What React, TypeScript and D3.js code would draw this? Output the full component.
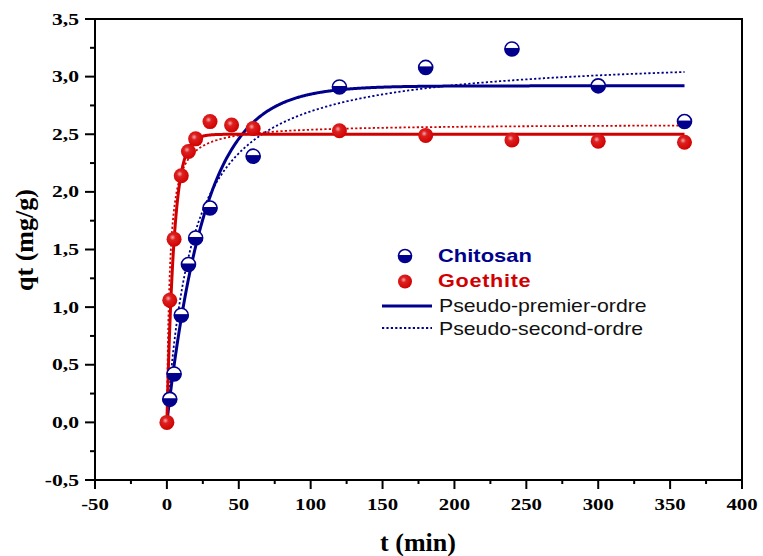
import React from "react";
import * as d3 from "d3";

// ---- Data ----
const chitosanT = [2, 5, 10, 15, 20, 30, 60, 120, 180, 240, 300, 360];
const chitosanQ = [0.2, 0.42, 0.93, 1.37, 1.6, 1.86, 2.31, 2.91, 3.08, 3.24, 2.92, 2.61];
const goethiteT = [0, 2, 5, 10, 15, 20, 30, 45, 60, 120, 180, 240, 300, 360];
const goethiteQ = [0.0, 1.06, 1.59, 2.14, 2.35, 2.46, 2.61, 2.58, 2.55, 2.53, 2.49, 2.45, 2.44, 2.43];

// model parameters (fits)
const pfoChitosan = { qe: 2.92, k: 0.037 };
const pfoGoethite = { qe: 2.5, k: 0.2 };
const psoChitosan = { qe: 3.196, k: 0.01696 };
const psoGoethite = { qe: 2.59, k: 0.193 };

const xTicks = [-50, 0, 50, 100, 150, 200, 250, 300, 350, 400];
const yTicks = [-0.5, 0, 0.5, 1.0, 1.5, 2.0, 2.5, 3.0, 3.5];
const xMinor = [-25, 25, 75, 125, 175, 225, 275, 325, 375];
const yMinor = [-0.25, 0.25, 0.75, 1.25, 1.75, 2.25, 2.75, 3.25];

const legendItems = ["Chitosan", "Goethite", "Pseudo-premier-ordre", "Pseudo-second-ordre"];

const BLUE = "#00008c";
const RED = "#d00000";

const pfo = (p: { qe: number; k: number }) => (t: number) => p.qe * (1 - Math.exp(-p.k * t));
const pso = (p: { qe: number; k: number }) => (t: number) => (p.qe * p.qe * p.k * t) / (1 + p.qe * p.k * t);

export default function App() {
  const W = 763, H = 556;
  const x = d3.scaleLinear().domain([-50, 400]).range([95, 742]);
  const y = d3.scaleLinear().domain([-0.5, 3.5]).range([480, 19]);
  const tGrid = d3.range(0, 360.01, 0.5);
  const line = d3.line<number[]>().x((d) => x(d[0])).y((d) => y(d[1]));
  const curve = (f: (t: number) => number) => line(tGrid.map((t) => [t, f(t)])) || "";

  const fmt = (v: number) =>
    Math.abs(v) < 1e-9 ? "0,0" : d3.format(".1f")(v).replace(".", ",").replace("\u2212", "-");

  const halfMarker = (cx: number, cy: number, r: number, key: string) => (
    <g key={key}>
      <circle cx={cx} cy={cy} r={r} fill="#fff" stroke={BLUE} strokeWidth={1.6} />
      <path
        d={`M${cx - r},${cy - 0.5} A${r},${r} 0 0 0 ${cx + r},${cy - 0.5} Z`}
        fill={BLUE}
        stroke={BLUE}
        strokeWidth={1}
      />
    </g>
  );
  const redMarker = (cx: number, cy: number, r: number, key: string) => (
    <circle key={key} cx={cx} cy={cy} r={r} fill="url(#redGrad)" />
  );

  const x0 = 95, x1 = 742, y0 = 480, y1 = 19;
  const lx = 405, ly = 256;

  return (
    <svg width={W} height={H} style={{ position: "absolute", left: 0, top: 0, background: "#fff" }}>
      <defs>
        <radialGradient id="redGrad" cx="40%" cy="38%" r="65%">
          <stop offset="0%" stopColor="#f4a8a8" />
          <stop offset="30%" stopColor="#dd2020" />
          <stop offset="100%" stopColor={RED} />
        </radialGradient>
      </defs>
      <rect width={W} height={H} fill="#fff" />

      {/* curves */}
      <path d={curve(pso(psoChitosan))} fill="none" stroke={BLUE} strokeWidth={1.8} strokeDasharray="2.2,2.2" />
      <path d={curve(pfo(pfoChitosan))} fill="none" stroke={BLUE} strokeWidth={3} />
      <path d={curve(pso(psoGoethite))} fill="none" stroke={RED} strokeWidth={1.8} strokeDasharray="2.2,2.2" />
      <path d={curve(pfo(pfoGoethite))} fill="none" stroke={RED} strokeWidth={3} />

      {/* markers */}
      {chitosanT.map((t, i) => halfMarker(x(t), y(chitosanQ[i]), 7, "c" + i))}
      {goethiteT.map((t, i) => redMarker(x(t), y(goethiteQ[i]), 7.5, "g" + i))}

      {/* frame */}
      <rect x={x0} y={y1} width={x1 - x0} height={y0 - y1} fill="none" stroke="#000" strokeWidth={2} />

      {/* y ticks */}
      {yTicks.map((v) => (
        <g key={"yt" + v}>
          <line x1={x0 - 10} x2={x0} y1={y(v)} y2={y(v)} stroke="#000" strokeWidth={2} />
          <text
            transform={`translate(79,${y(v) + 5.5}) scale(1.35,1)`}
            textAnchor="end"
            fontFamily="Liberation Serif, Times New Roman, serif"
            fontWeight="bold"
            fontSize={16}
          >
            {fmt(v)}
          </text>
        </g>
      ))}
      {yMinor.map((v) => (
        <line key={"ym" + v} x1={x0 - 5} x2={x0} y1={y(v)} y2={y(v)} stroke="#000" strokeWidth={2} />
      ))}

      {/* x ticks */}
      {xTicks.map((v) => (
        <g key={"xt" + v}>
          <line x1={x(v)} x2={x(v)} y1={y0} y2={y0 + 9} stroke="#000" strokeWidth={2} />
          <text
            transform={`translate(${x(v)},510) scale(1.3,1)`}
            textAnchor="middle"
            fontFamily="Liberation Serif, Times New Roman, serif"
            fontWeight="bold"
            fontSize={16}
          >
            {v}
          </text>
        </g>
      ))}
      {xMinor.map((v) => (
        <line key={"xm" + v} x1={x(v)} x2={x(v)} y1={y0} y2={y0 + 4} stroke="#000" strokeWidth={2} />
      ))}

      {/* axis titles */}
      <text
        x={418}
        y={551}
        textAnchor="middle"
        fontFamily="Liberation Serif, Times New Roman, serif"
        fontWeight="bold"
        fontSize={26}
      >
        t (min)
      </text>
      <text
        transform="translate(33,240) rotate(-90)"
        textAnchor="middle"
        fontFamily="Liberation Serif, Times New Roman, serif"
        fontWeight="bold"
        fontSize={26}
      >
        qt (mg/g)
      </text>

      {/* legend */}
      {halfMarker(lx, ly, 6.5, "lc")}
      {redMarker(lx, ly + 25.5, 7, "lg")}
      <line x1={382} x2={432} y1={306} y2={306} stroke={BLUE} strokeWidth={3} />
      <line x1={382} x2={432} y1={328} y2={328} stroke={BLUE} strokeWidth={1.8} strokeDasharray="2.2,2.2" />
      <text transform="translate(438,262) scale(1.22,1)" fontFamily="Liberation Sans, Arial, sans-serif" fontWeight="bold" fontSize={18} fill={BLUE}>
        {legendItems[0]}
      </text>
      <text transform="translate(438,287) scale(1.2,1)" fontFamily="Liberation Sans, Arial, sans-serif" fontWeight="bold" fontSize={18} fill={RED} letterSpacing={0.6}>
        {legendItems[1]}
      </text>
      <text transform="translate(439,312) scale(1.18,1)" fontFamily="Liberation Sans, Arial, sans-serif" fontSize={18} fill="#111">
        {legendItems[2]}
      </text>
      <text transform="translate(439,335) scale(1.18,1)" fontFamily="Liberation Sans, Arial, sans-serif" fontSize={18} fill="#111">
        {legendItems[3]}
      </text>
    </svg>
  );
}
